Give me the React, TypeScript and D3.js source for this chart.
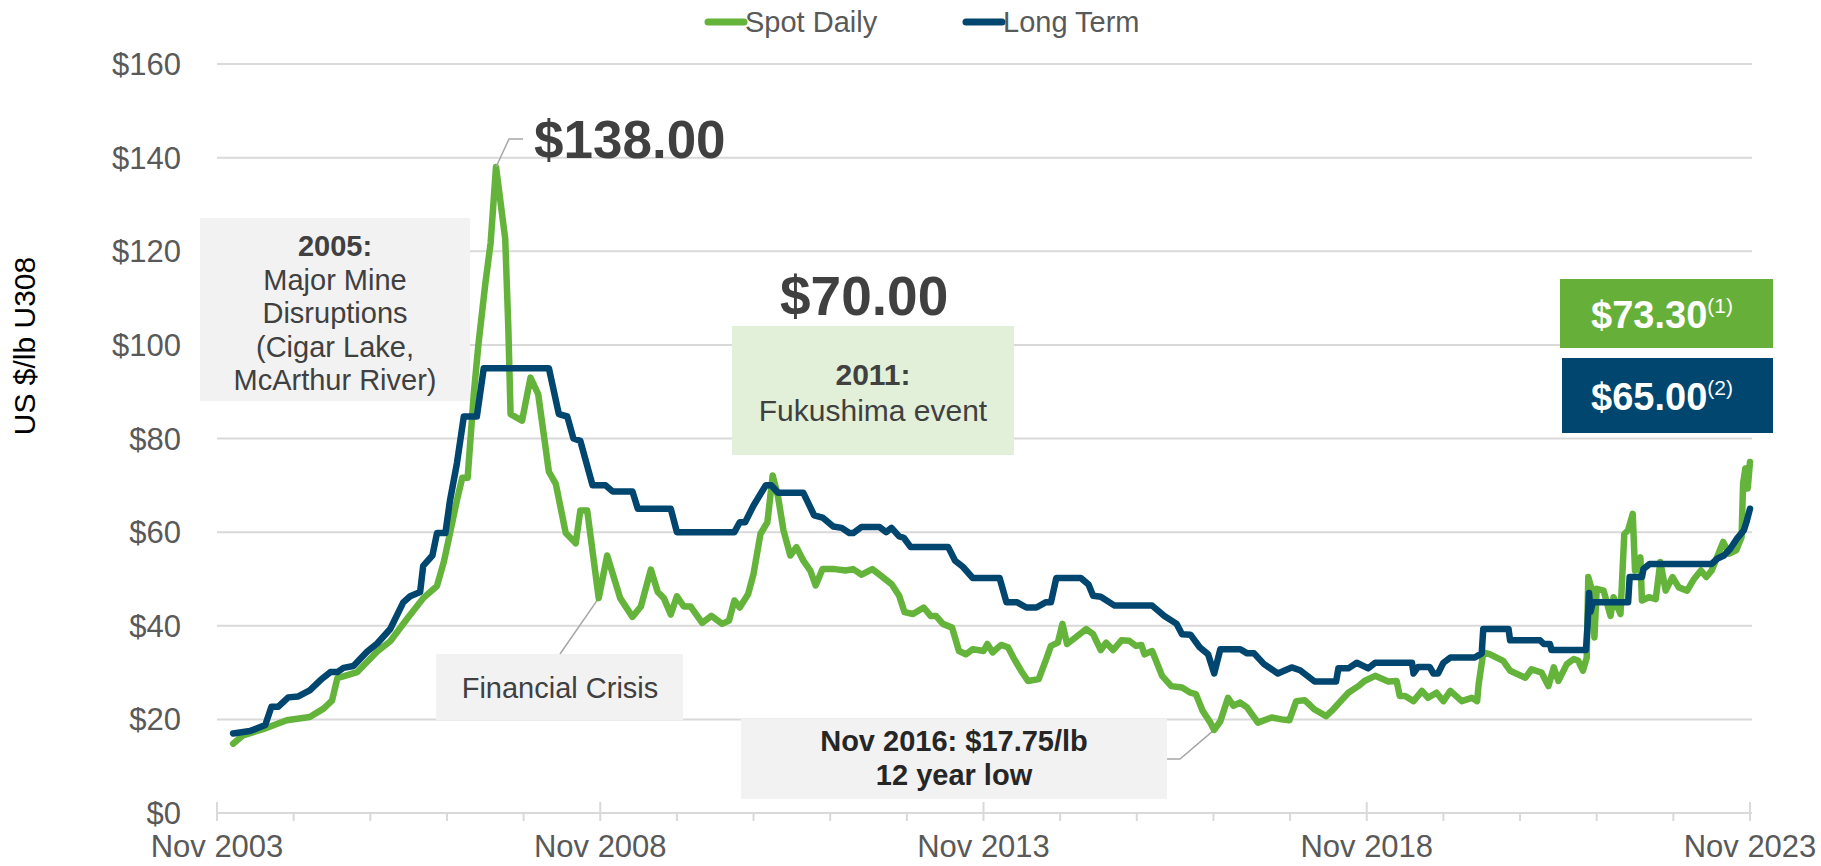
import React from "react";
import * as d3 from "d3";

// decimal years (Nov 2003 = 2003.83) and $/lb values
const spotT = [
  2004.04, 2004.17, 2004.43, 2004.74, 2005.04, 2005.22, 2005.33, 2005.4, 2005.66, 2005.92,
  2006.09, 2006.31, 2006.52, 2006.7, 2006.79, 2006.87, 2006.96, 2007.03, 2007.1, 2007.18,
  2007.24, 2007.33, 2007.4, 2007.47, 2007.59, 2007.63, 2007.66, 2007.81, 2007.92, 2008.02,
  2008.16, 2008.25, 2008.38, 2008.51, 2008.57, 2008.66, 2008.81, 2008.92, 2009.09, 2009.25,
  2009.36, 2009.49, 2009.58, 2009.66, 2009.75, 2009.83, 2009.92, 2010.01, 2010.16, 2010.28,
  2010.42, 2010.51, 2010.58, 2010.65, 2010.76, 2010.83, 2010.92, 2011.01, 2011.08, 2011.15,
  2011.22, 2011.31, 2011.39, 2011.48, 2011.57, 2011.64, 2011.73, 2011.89, 2012.03, 2012.13,
  2012.24, 2012.38, 2012.49, 2012.63, 2012.73, 2012.8, 2012.91, 2013.05, 2013.14, 2013.21,
  2013.3, 2013.42, 2013.51, 2013.6, 2013.69, 2013.83, 2013.88, 2013.95, 2014.06, 2014.15,
  2014.22, 2014.32, 2014.41, 2014.55, 2014.64, 2014.71, 2014.8, 2014.86, 2014.92, 2015.03,
  2015.17, 2015.26, 2015.36, 2015.43, 2015.52, 2015.63, 2015.73, 2015.82, 2015.89, 2015.93,
  2016.03, 2016.16, 2016.28, 2016.42, 2016.53, 2016.6, 2016.69, 2016.79, 2016.84, 2016.92,
  2017.02, 2017.09, 2017.18, 2017.27, 2017.41, 2017.59, 2017.72, 2017.82, 2017.91, 2018.02,
  2018.15, 2018.3, 2018.39, 2018.59, 2018.72, 2018.8, 2018.94, 2019.11, 2019.22, 2019.26,
  2019.33, 2019.44, 2019.55, 2019.63, 2019.74, 2019.83, 2019.92, 2020.07, 2020.2, 2020.27,
  2020.29, 2020.35, 2020.44, 2020.61, 2020.7, 2020.9, 2020.98, 2021.11, 2021.2, 2021.27,
  2021.33, 2021.44, 2021.53, 2021.59, 2021.65, 2021.7, 2021.72, 2021.77, 2021.8, 2021.83,
  2021.92, 2022.01, 2022.05, 2022.14, 2022.19, 2022.24, 2022.3, 2022.33, 2022.4, 2022.42,
  2022.51, 2022.6, 2022.66, 2022.73, 2022.82, 2022.9, 2023.01, 2023.1, 2023.19, 2023.26,
  2023.33, 2023.48, 2023.56, 2023.65, 2023.72, 2023.74, 2023.77, 2023.8, 2023.83,
];
const spotV = [
  14.8, 16.6, 17.9, 19.8, 20.5, 22.3, 24, 28.8, 30.1, 34.5,
  36.7, 41.5, 45.9, 48.5, 53.7, 59.8, 66.8, 71.6, 71.6, 89.5,
  100, 113, 121.8, 138, 122.7, 104, 85.2, 83.8, 93, 89.5,
  72.9, 70.3, 59.8, 57.6, 64.6, 64.6, 45.9, 55, 45.9, 41.9,
  44.1, 52, 47.2, 45.9, 42.4, 46.3, 44.1, 44.1, 40.6, 42.1,
  40.4, 41.1, 45.4, 43.9, 46.8, 51.1, 59.6, 62.1, 72.1, 67.5,
  60.4, 55, 56.8, 53.9, 51.8, 48.6, 52.1, 52.1, 51.8, 52.1,
  50.9, 52.1, 50.7, 48.9, 46.4, 42.9, 42.5, 43.9, 42.1, 42.1,
  40.4, 39.6, 34.6, 33.9, 35, 34.6, 36.1, 34.3, 35.9, 35.4,
  33.2, 30.4, 28.2, 28.6, 32.5, 35.7, 36.4, 40.4, 36.1, 37.5,
  39.3, 38.2, 34.8, 36.4, 34.8, 36.9, 36.8, 35.7, 35.9, 33.9,
  34.6, 29.3, 27.1, 26.8, 25.7, 25.4, 21.8, 19.3, 17.75, 19.6,
  24.6, 22.9, 23.6, 22.5, 19.3, 20.4, 20, 19.8, 23.9, 24.1,
  22.1, 20.7, 22.1, 25.7, 27.1, 28.2, 29.3, 28.1, 28.2, 25,
  25, 23.9, 26.1, 24.6, 25.7, 23.9, 26.1, 23.9, 24.6, 23.9,
  27.5, 34.3, 33.9, 32.5, 30.4, 28.9, 30.7, 30, 27.1, 31.1,
  28.2, 31.8, 32.9, 32.5, 30.4, 33.2, 50.4, 47.5, 37.5, 47.9,
  47.5, 42.1, 46.1, 42.5, 59.6, 60.4, 63.9, 51.8, 54.6, 45.4,
  46.1, 45.7, 53.6, 47.5, 50.4, 48.2, 47.5, 50, 51.8, 50.4,
  51.8, 57.9, 55.4, 56.1, 58.9, 70.4, 73.6, 69.3, 75,
];

const termT = [
  2004.04, 2004.26, 2004.46, 2004.54, 2004.63, 2004.76, 2004.89, 2005.04, 2005.18, 2005.31,
  2005.4, 2005.48, 2005.61, 2005.79, 2005.92, 2006.09, 2006.26, 2006.35, 2006.48, 2006.52,
  2006.64, 2006.7, 2006.81, 2006.87, 2006.96, 2007.05, 2007.22, 2007.31, 2008.16, 2008.29,
  2008.4, 2008.48, 2008.57, 2008.73, 2008.9, 2008.99, 2009.25, 2009.32, 2009.75, 2009.83,
  2010.58, 2010.65, 2010.72, 2010.83, 2010.99, 2011.06, 2011.15, 2011.48, 2011.62, 2011.73,
  2011.87, 2011.98, 2012.08, 2012.13, 2012.24, 2012.47, 2012.56, 2012.63, 2012.73, 2012.79,
  2012.88, 2013.37, 2013.46, 2013.56, 2013.69, 2014.04, 2014.13, 2014.27, 2014.39, 2014.52,
  2014.64, 2014.71, 2014.78, 2015.1, 2015.2, 2015.26, 2015.36, 2015.54, 2016.03, 2016.19,
  2016.35, 2016.42, 2016.53, 2016.65, 2016.76, 2016.84, 2016.92, 2017.18, 2017.27, 2017.36,
  2017.49, 2017.67, 2017.85, 2017.96, 2018.15, 2018.43, 2018.46, 2018.59, 2018.7, 2018.85,
  2018.94, 2019.42, 2019.44, 2019.5, 2019.65, 2019.7, 2019.76, 2019.83, 2019.92, 2020.24,
  2020.33, 2020.35, 2020.68, 2020.7, 2021.09, 2021.14, 2021.22, 2021.24, 2021.69, 2021.71,
  2021.73, 2021.75, 2021.78, 2022.24, 2022.26, 2022.42, 2022.44, 2022.52, 2023.33, 2023.4,
  2023.49, 2023.57, 2023.66, 2023.75, 2023.79, 2023.83,
];
const termV = [
  17, 17.5, 18.8, 22.7, 22.7, 24.7, 24.9, 26.2, 28.4, 30.1,
  30.1, 31, 31.4, 34.5, 36.2, 39.3, 45, 46.3, 47.2, 52.8,
  55, 59.8, 59.8, 66.8, 74.7, 84.7, 84.7, 95, 95, 85.2,
  84.7, 80, 79.5, 70, 70, 68.7, 68.7, 65, 65, 60,
  60, 62.1, 62.1, 65.7, 70, 70, 68.4, 68.4, 63.6, 63.1,
  61.2, 60.9, 59.8, 59.8, 61.1, 61.1, 60, 60.9, 59.1, 58.8,
  56.8, 56.8, 53.9, 52.6, 50.2, 50.2, 45, 45, 43.9, 43.9,
  45, 45, 50.2, 50.2, 48.8, 46.4, 46.2, 44.3, 44.3, 42.1,
  40.4, 38.2, 38.1, 35.4, 33.9, 29.8, 35, 35, 34.1, 34.1,
  31.8, 29.8, 31.1, 30.5, 28.1, 28.1, 30.9, 30.9, 32.1, 30.9,
  32.1, 32.1, 29.8, 31.2, 31.2, 29.8, 29.8, 32.1, 33.2, 33.2,
  34.1, 39.3, 39.3, 36.9, 36.9, 36.1, 36.1, 34.8, 34.8, 40,
  47, 43, 45, 45, 50.4, 50.4, 52.1, 53.2, 53.2, 54.3,
  55, 56.4, 58.6, 60.4, 62.5, 65,
];

const yTicks = [0, 20, 40, 60, 80, 100, 120, 140, 160];
const xTickYears = d3.range(0, 21); // yearly ticks from Nov 2003
const xTickLabels = ["Nov 2003", "Nov 2008", "Nov 2013", "Nov 2018", "Nov 2023"];

const GREEN = "#64b33b";
const NAVY = "#00466e";
const FONT = "'Liberation Sans', Arial, sans-serif";

export default function App() {
  const x = d3.scaleLinear().domain([2003.83, 2023.83]).range([217, 1750]);
  const y = d3.scaleLinear().domain([0, 160]).range([813, 64]);

  const line = d3
    .line<[number, number]>()
    .x((d) => x(d[0]))
    .y((d) => y(d[1]));

  const spot = spotT.map((t, i) => [t, spotV[i]] as [number, number]);
  const term = termT.map((t, i) => [t, termV[i]] as [number, number]);

  const peakX = x(2007.47);
  const peakY = y(138);
  const crisisX = x(2008.81);
  const crisisY = y(45.9);
  const lowX = x(2016.84);
  const lowY = y(17.75);

  return (
    <svg
      width={1821}
      height={866}
      style={{ position: "absolute", left: 0, top: 0, fontFamily: FONT }}
    >
      <rect width={1821} height={866} fill="#fff" />

      {/* gridlines */}
      {yTicks.slice(1).map((v) => (
        <line key={v} x1={217} x2={1752} y1={y(v)} y2={y(v)} stroke="#d9d9d9" strokeWidth={2} />
      ))}

      {/* y axis labels */}
      {yTicks.map((v) => (
        <text key={v} x={181} y={y(v) + 11} textAnchor="end" fontSize={31} fill="#595959">
          {"$" + v}
        </text>
      ))}
      <text
        transform={`translate(35,346) rotate(-90)`}
        textAnchor="middle"
        fontSize={30}
        fill="#000"
      >
        US $/lb U308
      </text>

      {/* x axis */}
      <line x1={217} x2={1752} y1={y(0)} y2={y(0)} stroke="#d9d9d9" strokeWidth={2} />
      {xTickYears.map((i) => (
        <line
          key={i}
          x1={x(2003.83 + i)}
          x2={x(2003.83 + i)}
          y1={i % 5 === 0 ? y(0) - 11 : y(0)}
          y2={y(0) + 8}
          stroke="#d9d9d9"
          strokeWidth={2}
        />
      ))}
      {xTickLabels.map((l, i) => (
        <text key={l} x={x(2003.83 + i * 5)} y={857} textAnchor="middle" fontSize={31} fill="#595959">
          {l}
        </text>
      ))}

      {/* annotation boxes */}
      <rect x={200} y={218} width={270} height={183} fill="#f2f2f2" />
      <g textAnchor="middle" fontSize={29} fill="#404040">
        <text x={335} y={256} fontWeight="bold">2005:</text>
        <text x={335} y={290}>Major Mine</text>
        <text x={335} y={323}>Disruptions</text>
        <text x={335} y={357}>(Cigar Lake,</text>
        <text x={335} y={390}>McArthur River)</text>
      </g>

      <rect x={732} y={326} width={282} height={129} fill="#e2efd9" />
      <g textAnchor="middle" fontSize={30} fill="#404040">
        <text x={873} y={385} fontWeight="bold">2011:</text>
        <text x={873} y={421}>Fukushima event</text>
      </g>

      <rect x={436} y={654} width={247} height={66} fill="#f2f2f2" />
      <text x={560} y={698} textAnchor="middle" fontSize={29} fill="#404040">
        Financial Crisis
      </text>
      <polyline
        points={`560,654 ${crisisX},${crisisY}`}
        fill="none"
        stroke="#a6a6a6"
        strokeWidth={1.5}
      />

      <rect x={741} y={719} width={426} height={80} fill="#f2f2f2" />
      <g textAnchor="middle" fontSize={29} fill="#262626" fontWeight="bold">
        <text x={954} y={751}>Nov 2016: $17.75/lb</text>
        <text x={954} y={785}>12 year low</text>
      </g>
      <polyline
        points={`1167,759 1180,759 ${lowX},${lowY}`}
        fill="none"
        stroke="#a6a6a6"
        strokeWidth={1.5}
      />

      {/* series */}
      <path d={line(spot) ?? ""} fill="none" stroke={GREEN} strokeWidth={6.5} strokeLinejoin="round" strokeLinecap="round" />
      <path d={line(term) ?? ""} fill="none" stroke={NAVY} strokeWidth={6.5} strokeLinejoin="round" strokeLinecap="round" />

      {/* peak labels */}
      <polyline
        points={`${peakX},${peakY} ${peakX + 13},${peakY - 28} ${peakX + 27},${peakY - 28}`}
        fill="none"
        stroke="#a6a6a6"
        strokeWidth={1.5}
      />
      <text x={534} y={158} fontSize={53} fontWeight="bold" fill="#404040">$138.00</text>
      <text x={780} y={315} fontSize={55} fontWeight="bold" fill="#404040">$70.00</text>

      {/* current price boxes */}
      <rect x={1560} y={279} width={213} height={69} fill="#66b03a" />
      <text x={1662} y={328} textAnchor="middle" fill="#fff" fontWeight="bold" fontSize={38}>
        $73.30<tspan fontSize={21} fontWeight="normal" dy={-15}>(1)</tspan>
      </text>
      <rect x={1562} y={358} width={211} height={75} fill={NAVY} />
      <text x={1662} y={410} textAnchor="middle" fill="#fff" fontWeight="bold" fontSize={38}>
        $65.00<tspan fontSize={21} fontWeight="normal" dy={-15}>(2)</tspan>
      </text>

      {/* legend */}
      <line x1={708} x2={744} y1={22} y2={22} stroke={GREEN} strokeWidth={7} strokeLinecap="round" />
      <text x={745} y={32} fontSize={29} fill="#595959">Spot Daily</text>
      <line x1={966} x2={1002} y1={22} y2={22} stroke={NAVY} strokeWidth={7} strokeLinecap="round" />
      <text x={1003} y={32} fontSize={29} fill="#595959">Long Term</text>
    </svg>
  );
}
